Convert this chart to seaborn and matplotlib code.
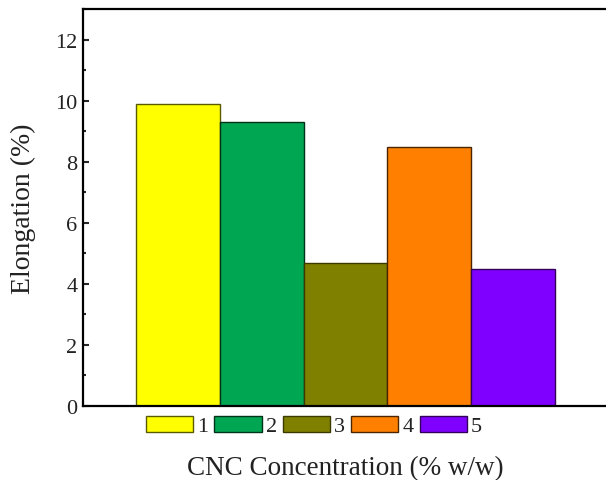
import matplotlib
matplotlib.use("Agg")
import matplotlib.pyplot as plt
import seaborn as sns
from matplotlib.ticker import MultipleLocator

samples = ["1", "2", "3", "4", "5"]
elongation = [9.9, 9.3, 4.7, 8.5, 4.5]
fill_colors = ["#FFFF00", "#00A651", "#808000", "#FF8000", "#8000FF"]
edge_colors = ["#5A5A00", "#00331A", "#3A3A00", "#4A2500", "#33005A"]

sns.set_style("ticks")
plt.rcParams["font.family"] = ["Liberation Serif", "DejaVu Serif"]

fig = plt.figure(figsize=(6.06, 4.81), dpi=100)
ax = fig.add_axes([0.137, 0.1538, 0.866, 0.825])

sns.barplot(x=samples, y=elongation, hue=samples, palette=fill_colors,
            width=1.0, saturation=1, legend=False, ax=ax)
for bar, ec in zip(ax.patches, edge_colors):
    bar.set_edgecolor(ec)
    bar.set_linewidth(1.0)

ax.set_xlim(-1.134, 5.134)
ax.set_ylim(0, 13)
ax.set_xticks([])
ax.yaxis.set_major_locator(MultipleLocator(2))
ax.yaxis.set_minor_locator(MultipleLocator(1))
ax.tick_params(axis="y", which="major", direction="in", length=4, width=1.5,
               labelsize=16, pad=4, labelcolor="#222222")
ax.tick_params(axis="y", which="minor", direction="in", length=2.5, width=1.5)
for side in ["left", "bottom", "top", "right"]:
    ax.spines[side].set_visible(True)
    ax.spines[side].set_linewidth(1.6)
    ax.spines[side].set_color("black")

ax.set_ylabel("Elongation (%)", fontsize=20, labelpad=14, color="#222222")
ax.set_xlabel("CNC Concentration (% w/w)", fontsize=19.5, labelpad=35,
              color="#222222")

handles = [plt.Rectangle((0, 0), 1, 1, facecolor=fc, edgecolor=ec, linewidth=1.0)
           for fc, ec in zip(fill_colors, edge_colors)]
fig.legend(handles, samples, loc="center", bbox_to_anchor=(0.518, 0.112),
           ncol=5, frameon=False, fontsize=16, handlelength=2.12,
           handleheight=0.72, handletextpad=0.18, columnspacing=0.28,
           labelcolor="#222222")

fig.savefig("out.png", dpi=100)
